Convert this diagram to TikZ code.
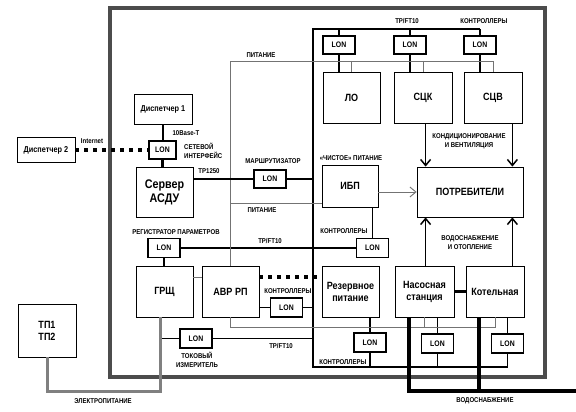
\documentclass[tikz,border=0pt]{standalone}
\usepackage{fontspec}
\setmainfont{Liberation Sans}[FakeStretch=0.86]
\usetikzlibrary{arrows.meta}

\begin{document}
\begin{tikzpicture}[x=1pt, y=-1pt,
    box/.style={draw, line width=0.8pt, align=center, inner sep=1pt, font=\bfseries\fontsize{10.5}{12}\selectfont},
    small/.style={font=\bfseries\fontsize{8.5}{10}\selectfont},
    lon/.style={draw, line width=1.5pt, minimum width=32, minimum height=19, inner sep=0pt, font=\bfseries\fontsize{8}{9}\selectfont},
    lbl/.style={inner sep=0pt, align=center, font=\bfseries\fontsize{7}{9}\selectfont},
    bus/.style={draw, line width=1.1pt},
    pwr/.style={draw=black!55, line width=0.9pt},
    net/.style={draw, line width=2.8pt},
    dots/.style={draw, line width=3.5pt, dash pattern=on 4pt off 5pt},
    elec/.style={draw=black!50, line width=3pt},
    water/.style={draw, line width=3.2pt},
    flow/.style={draw, line width=1.6pt, -{Straight Barb[length=6pt, width=10pt, line width=1.5pt]}}
]
\useasboundingbox (0,0) rectangle (576,412);

% -------- Рамка объекта --------
\draw[black!70, line width=4pt] (110,8) rectangle (545,377);

% -------- Диспетчерская часть --------
\node[box, small, minimum width=58, minimum height=30] (disp1) at (163,109) {Диспетчер 1};
\node[box, small, minimum width=58, minimum height=25] (disp2) at (46,150) {Диспетчер 2};
\node[lon, minimum width=27, minimum height=18] (lonnet) at (162.5,150) {LON};
\node[box, minimum width=57, minimum height=50, font=\bfseries\fontsize{12.5}{14}\selectfont] (server) at (164.5,192) {Сервер\\АСДУ};
\node[lon, minimum height=18] (lonrout) at (270,179) {LON};

% -------- Верхний ряд: ЛО, СЦК, СЦВ --------
\node[lon, minimum height=18] (lonlo) at (339,45) {LON};
\node[lon, minimum height=18] (lonsck) at (410,45) {LON};
\node[lon, minimum height=18] (lonscv) at (480,45) {LON};
\node[box, minimum width=57, minimum height=51] (lo) at (351.5,97.5) {ЛО};
\node[box, minimum width=58, minimum height=51] (sck) at (423,97.5) {СЦК};
\node[box, minimum width=58, minimum height=51] (scv) at (493,97.5) {СЦВ};

% -------- Середина --------
\node[box, minimum width=56, minimum height=42] (ibp) at (350,186) {ИБП};
\node[lon] (lonibp) at (372.5,248) {LON};
\node[box, minimum width=106, minimum height=50] (potr) at (470,192) {ПОТРЕБИТЕЛИ};
\node[lon] (lonreg) at (164,248) {LON};

% -------- Нижний ряд --------
\node[box, minimum width=57, minimum height=51] (grsch) at (164.5,291.5) {ГРЩ};
\node[box, minimum width=57, minimum height=51] (avr) at (230.5,291.5) {АВР РП};
\node[lon] (lonavr) at (286.5,307.5) {LON};
\node[box, minimum width=57, minimum height=51] (rezerv) at (350.5,291.5) {Резервное\\питание};
\node[lon] (lonrez) at (370,342.5) {LON};
\node[box, minimum width=59, minimum height=51] (nasos) at (424.5,291.5) {Насосная\\станция};
\node[box, minimum width=58, minimum height=51] (kotel) at (495,291.5) {Котельная};
\node[lon] (lonnas) at (437.5,343.5) {LON};
\node[lon] (lonkot) at (507.5,343.5) {LON};
\node[lon] (lontok) at (196,338.5) {LON};
\node[box, minimum width=58, minimum height=53] (tp) at (47,330.5) {ТП1\\ТП2};

% -------- Шина TP/FT10 --------
\coordinate (bt) at (313,29);
\coordinate (bb) at (313,367);
\coordinate (ep) at (160,391);
\draw[bus] (lonscv |- bt) -- (bt) -- (bb) -- (lonkot |- bb);
\foreach \l/\b in {lonlo/lo, lonsck/sck, lonscv/scv} {
  \draw[bus] (\l.north) -- (\l |- bt);
  \draw[bus] (\l.south) -- (\l.south |- \b.north);
}
\draw[bus] (lonrout.east) -- (lonrout.east -| bt);
\draw[bus] (lonreg.east) -- (lonibp.west);
\draw[bus] (lonreg.south) -- (lonreg.south |- grsch.north);
\draw[bus] (ibp.south -| lonibp) -- (lonibp.north);
\draw[bus] (avr.east |- lonavr) -- (lonavr.west);
\draw[bus] (lonavr.east) -- (lonavr.east -| bt);
\draw[bus] (lonrez.north |- rezerv.south) -- (lonrez.north);
\draw[bus] (lonrez.south) -- (lonrez.south |- bb);
\foreach \l/\b in {lonnas/nasos, lonkot/kotel} {
  \draw[bus] (\l.north |- \b.south) -- (\l.north);
  \draw[bus] (\l.south) -- (\l.south |- bb);
}
\draw[bus] (lontok.east) -- (lontok.east -| bt);
\draw[bus] (lontok.west) -- (ep |- lontok.west);

% -------- Питание (серые линии) --------
\coordinate (pw) at (230.5,61);
\coordinate (pb) at (230.5,327);
\coordinate (pi) at ([yshift=-17pt]ibp.west);
\draw[pwr] (avr.north) -- (pw) -- (scv.north |- pw) -- (scv.north);
\foreach \b in {lo,sck} \draw[pwr] (\b.north |- pw) -- (\b.north);
\draw[pwr] (pi) -- (pw |- pi);
\draw[pwr] (avr.south) -- (pb) -- (kotel.south |- pb) -- (kotel.south);
\draw[pwr] (nasos.south |- pb) -- (nasos.south);
\draw[pwr] ([yshift=14.5pt]grsch.east) -- ([yshift=14.5pt]avr.west);
\draw[pwr, -{Straight Barb[length=6pt, width=10pt]}] (ibp.east |- potr.west) -- (potr.west);

% -------- Сеть и связи --------
\draw[net] (disp1.south) -- (disp1.south |- lonnet.north);
\draw[net] (lonnet.south) -- (lonnet.south |- server.north);
\draw[net] (server.east |- lonrout) -- (lonrout.west);
\draw[dots] (disp2.east) -- (lonnet.west);
\draw[dots] ([yshift=14.5pt]avr.east) -- ([yshift=14.5pt]rezerv.west);
\draw[net] (nasos.east) -- (kotel.west);

% -------- Потоки к потребителям --------
\coordinate (p1) at ([xshift=9pt]potr.north west);
\coordinate (p2) at ([xshift=-11pt]potr.north east);
\coordinate (p3) at ([xshift=9pt]potr.south west);
\coordinate (p4) at ([xshift=-11pt]potr.south east);
\draw[flow] (p1 |- sck.south) -- (p1);
\draw[flow] (p2 |- scv.south) -- (p2);
\draw[flow] (p3 |- nasos.north) -- (p3);
\draw[flow] (p4 |- kotel.north) -- (p4);

% -------- Электропитание и водоснабжение --------
\coordinate (wp) at (576,391);
\draw[elec] (ep |- grsch.south) -- (ep) -| (tp.south);
\draw[water] ([xshift=-15.5pt]nasos.south) |- (wp);
\draw[water] ([xshift=-16pt]kotel.south) -- ([xshift=-16pt]kotel.south |- wp);

% -------- Подписи --------
\node[lbl] (t1) at (261,55) {ПИТАНИЕ};
\node[lbl] (t2) at (273,161) {МАРШРУТИЗАТОР};
\node[lbl] (t3) at (186,133) {10Base-T};
\node[lbl] (t4) at (92,141) {Internet};
\node[lbl, anchor=west, align=left] (t5) at (184,150.5) {СЕТЕВОЙ\\ИНТЕРФЕЙС};
\node[lbl] (t6) at (209,171) {TP1250};
\node[lbl] (t7) at (262,210) {ПИТАНИЕ};
\node[lbl] (t8) at (176,232) {РЕГИСТРАТОР ПАРАМЕТРОВ};
\node[lbl] (t9) at (270,241) {TP/FT10};
\node[lbl] (t10) at (351,158) {«ЧИСТОЕ» ПИТАНИЕ};
\node[lbl] (t11) at (344,231) {КОНТРОЛЛЕРЫ};
\node[lbl] (t12) at (407,21) {TP/FT10};
\node[lbl] (t13) at (484,21) {КОНТРОЛЛЕРЫ};
\node[lbl] (t14) at (469,141.5) {КОНДИЦИОНИРОВАНИЕ\\И ВЕНТИЛЯЦИЯ};
\node[lbl] (t15) at (470,242.5) {ВОДОСНАБЖЕНИЕ\\И ОТОПЛЕНИЕ};
\node[lbl] (t16) at (288,291) {КОНТРОЛЛЕРЫ};
\node[lbl] (t17) at (343,362) {КОНТРОЛЛЕРЫ};
\node[lbl] (t18) at (281,346) {TP/FT10};
\node[lbl] (t19) at (197,360) {ТОКОВЫЙ\\ИЗМЕРИТЕЛЬ};
\node[lbl] (t20) at (103,401) {ЭЛЕКТРОПИТАНИЕ};
\node[lbl] (t21) at (485,401) {ВОДОСНАБЖЕНИЕ};
\end{tikzpicture}
\end{document}
